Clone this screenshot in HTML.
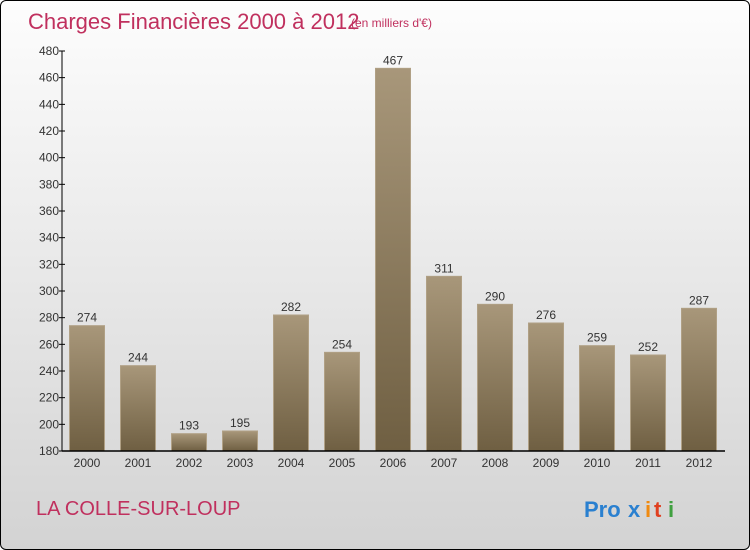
<!DOCTYPE html>
<html><head><meta charset="utf-8"><style>
html,body{margin:0;padding:0;}
body{width:750px;height:550px;overflow:hidden;font-family:"Liberation Sans",sans-serif;}
#frame{position:absolute;left:0;top:0;width:748px;height:548px;border:1px solid #000;border-radius:6px;background:linear-gradient(#fdfdfd,#d3d3d3);overflow:hidden;}
</style></head><body>
<div id="frame">
<svg width="750" height="550">
<defs><linearGradient id="bg" x1="0" y1="0" x2="0" y2="1"><stop offset="0" stop-color="#a8977a"/><stop offset="1" stop-color="#6f5f42"/></linearGradient></defs>
<text x="27" y="28" font-size="22" fill="#c0305e">Charges Financières 2000 à 2012</text>
<text x="350" y="26" font-size="12" fill="#c0305e">(en milliers d'€)</text>
<text x="35" y="514" font-size="20" fill="#c0305e">LA COLLE-SUR-LOUP</text>
<g font-size="22" font-weight="bold"><text x="583" y="516" fill="#2a80d0">Pro</text><text x="627" y="516" fill="#2a80d0">x</text><text x="644" y="516" fill="#f08a10">i</text><text x="653" y="516" fill="#e04020">t</text><text x="667" y="516" fill="#40a040">i</text></g>
<g id="plot"></g>
</svg></div>
<script>
const categories=["2000","2001","2002","2003","2004","2005","2006","2007","2008","2009","2010","2011","2012"];
const values=[274,244,193,195,282,254,467,311,290,276,259,252,287];
const yTicks=[180,200,220,240,260,280,300,320,340,360,380,400,420,440,460,480];
const ns="http://www.w3.org/2000/svg";
const g=document.getElementById("plot");
const x0=61,band=51,yMin=180,yMax=480,yB=450,yT=50;
const y=v=>yB-(v-yMin)/(yMax-yMin)*(yB-yT);
const xc=i=>x0+band*i+25;
function mk(t,a){const e=document.createElementNS(ns,t);for(const k in a)e.setAttribute(k,a[k]);g.appendChild(e);return e;}
let e=mk("line",{x1:x0,y1:yT,x2:x0,y2:yB,stroke:"#000"});


yTicks.forEach(t=>{
 const l=mk("line",{x1:x0-3,x2:x0+3,y1:y(t),y2:y(t),stroke:"#000"});
 
 
 const tx=mk("text",{x:x0-3,y:y(t)+4,"font-size":12,"text-anchor":"end",fill:"#333"});tx.textContent=t;
 
 
});
values.forEach((v,i)=>{
 const r=mk("rect",{x:xc(i)-17.5,y:y(v),width:35,height:yB-y(v),fill:"url(#bg)",stroke:"#b0a085","stroke-width":1});
 
 
 const t=mk("text",{x:xc(i),y:y(v)-4,"font-size":12,"text-anchor":"middle",fill:"#333"});t.textContent=v;
 
 
 const c=mk("text",{x:xc(i),y:466,"font-size":12,"text-anchor":"middle",fill:"#333"});c.textContent=categories[i];
 
 
});
e=mk("line",{x1:x0,y1:yB,x2:724,y2:yB,stroke:"#000","stroke-width":1.5});


</script>
</body></html>
